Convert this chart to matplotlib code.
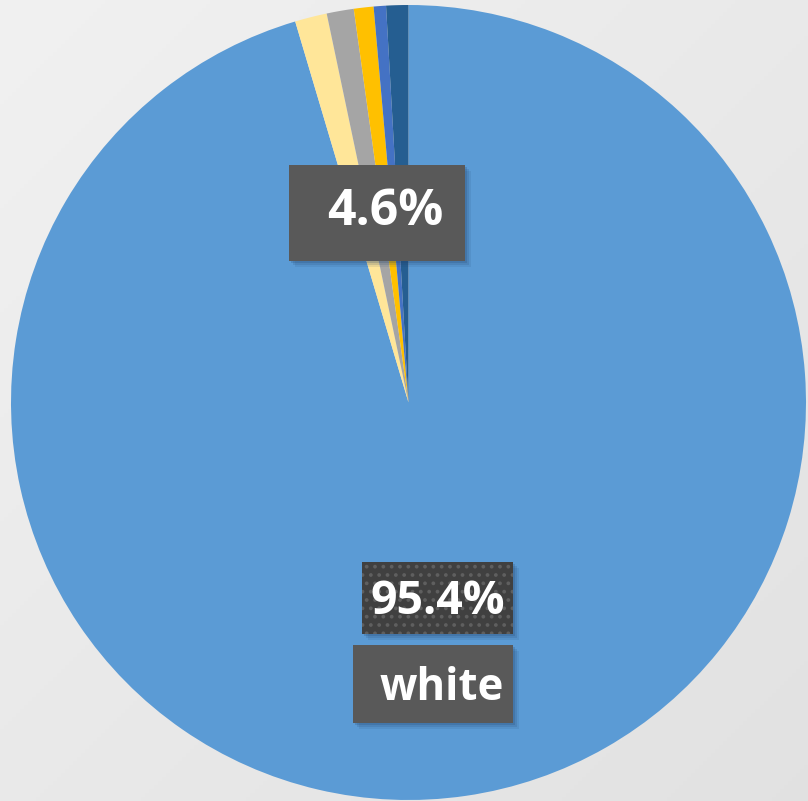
import numpy as np
import matplotlib
matplotlib.use("Agg")
import matplotlib.pyplot as plt
from matplotlib.patches import Rectangle

# Data
categories = ["white", "other 1", "other 2", "other 3", "other 4", "other 5"]
values = [95.4, 1.3, 1.1, 0.8, 0.5, 0.9]
colors = ["#5B9BD5", "#FFE699", "#A5A5A5", "#FFC000", "#4472C4", "#255E91"]
label_white = "white"
pct_white = "95.4%"
pct_rest = "4.6%"

W, H = 808, 801
fig = plt.figure(figsize=(W / 100, H / 100), dpi=100)

# background gradient
bg = fig.add_axes([0, 0, 1, 1])
yy, xx = np.mgrid[0:1:200j, 0:1:200j]
grad = 0.945 - 0.06 * (xx + yy) / 2
bg.imshow(np.dstack([grad, grad, grad]), extent=[0, 1, 0, 1], aspect="auto", origin="upper")
bg.axis("off")

ax = fig.add_axes([0, 0, 1, 1])
ax.set_xlim(0, W)
ax.set_ylim(0, H)
ax.set_aspect("equal")
ax.axis("off")

cx, cy, r = 408.5, H - 402.5, 397.5
ax.pie(values, colors=colors, startangle=90, counterclock=False,
       center=(cx, cy), radius=r, wedgeprops=dict(linewidth=0))
ax.set_xlim(0, W)
ax.set_ylim(0, H)


def box(x0, y0, x1, y1, color, hatch=None):
    # y given in top-down pixel coords
    for k, a in [(6, 0.10), (4, 0.15), (2, 0.2)]:
        ax.add_patch(Rectangle((x0 + k, H - y1 - k), x1 - x0, y1 - y0,
                               facecolor="#1f3f66", alpha=a, linewidth=0, zorder=5))
    ax.add_patch(Rectangle((x0, H - y1), x1 - x0, y1 - y0, facecolor=color,
                           edgecolor="#5f5f5f" if hatch else "none",
                           hatch=hatch, linewidth=0, zorder=6))


plt.rcParams["hatch.linewidth"] = 1.5
box(289, 165, 465, 261, "#595959")
ax.text(385, H - 212, pct_rest, color="white", fontsize=36, fontweight="bold",
        family=["Open Sans", "DejaVu Sans"], ha="center", va="center", zorder=7)

box(362, 562, 513, 634, "#404040", hatch="..")
ax.text(437.5, H - 601, pct_white, color="white", fontsize=33.5, fontweight="bold",
        family=["Open Sans", "DejaVu Sans"], ha="center", va="center", zorder=7)

box(353, 645, 513, 723, "#595959")
ax.text(442, H - 689, label_white, color="white", fontsize=31.5, fontweight="bold",
        family=["Open Sans", "DejaVu Sans"], ha="center", va="center", zorder=7)

fig.savefig("out.png", dpi=100)
